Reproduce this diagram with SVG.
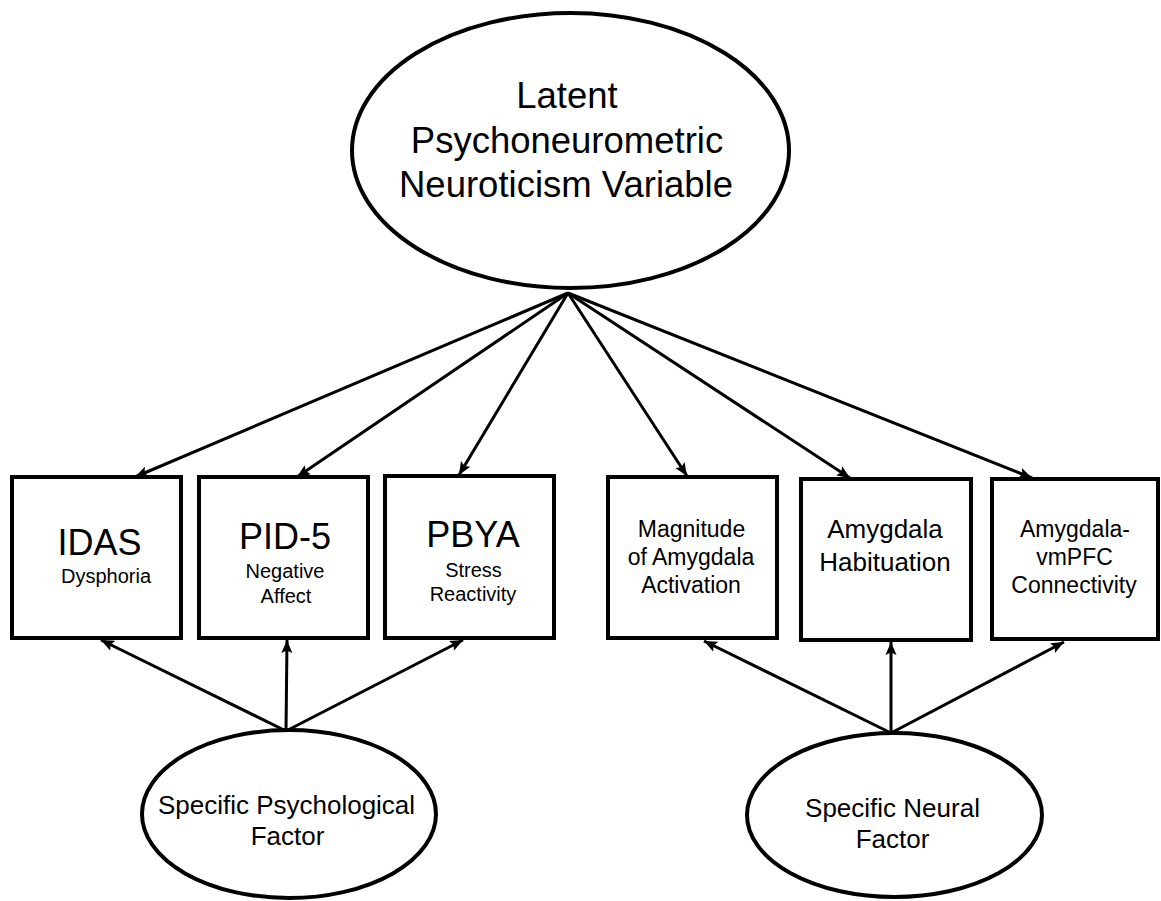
<svg xmlns="http://www.w3.org/2000/svg" width="1161" height="901" viewBox="0 0 1161 901">
<style>
  .shape { fill: #ffffff; stroke: #000000; stroke-width: 4; }
  .lbl { font-family: "Liberation Sans", Arial, Helvetica, sans-serif; fill: #000000; text-anchor: middle; }
  .conn line { stroke: #000000; stroke-width: 3; marker-end: url(#arrow); }
</style>
<defs>
  <marker id="arrow" markerUnits="userSpaceOnUse" markerWidth="14" markerHeight="12" refX="13" refY="6" orient="auto">
    <path d="M0,0.5 L13,6 L0,11.5 L2.5,6 Z" fill="#000000"/>
  </marker>
</defs>
<rect x="0" y="0" width="1161" height="901" fill="#ffffff"/>

<g id="connectors" class="conn">
  <line x1="568" y1="293" x2="135" y2="477"/>
  <line x1="568" y1="293" x2="297" y2="477"/>
  <line x1="568" y1="293" x2="459" y2="475"/>
  <line x1="568" y1="293" x2="687" y2="476"/>
  <line x1="568" y1="293" x2="850" y2="478"/>
  <line x1="568" y1="293" x2="1032" y2="478"/>
  <line x1="286" y1="731" x2="101" y2="640"/>
  <line x1="286" y1="731" x2="287" y2="640"/>
  <line x1="286" y1="731" x2="463" y2="640"/>
  <line x1="891" y1="733" x2="704" y2="641"/>
  <line x1="891" y1="733" x2="891" y2="642"/>
  <line x1="891" y1="733" x2="1064" y2="642"/>
</g>

<g id="latent">
  <ellipse class="shape" cx="570.5" cy="150.5" rx="218.5" ry="137.5"/>
  <text class="lbl" font-size="36.5" x="567" y="108">Latent</text>
  <text class="lbl" font-size="36.5" x="567" y="153">Psychoneurometric</text>
  <text class="lbl" font-size="36.5" x="566" y="197">Neuroticism Variable</text>
</g>

<g id="idas">
  <rect class="shape" x="12" y="477" width="169" height="161"/>
  <text class="lbl" font-size="36" x="99.5" y="555">IDAS</text>
  <text class="lbl" font-size="20" x="106" y="583">Dysphoria</text>
</g>

<g id="pid5">
  <rect class="shape" x="199" y="477" width="169" height="161"/>
  <text class="lbl" font-size="36" x="285" y="549">PID-5</text>
  <text class="lbl" font-size="20" x="285" y="578">Negative</text>
  <text class="lbl" font-size="20" x="286" y="603">Affect</text>
</g>

<g id="pbya">
  <rect class="shape" x="385" y="476" width="169" height="162"/>
  <text class="lbl" font-size="36" x="473" y="547">PBYA</text>
  <text class="lbl" font-size="20" x="473.5" y="577">Stress</text>
  <text class="lbl" font-size="20" x="473" y="601">Reactivity</text>
</g>

<g id="magnitude">
  <rect class="shape" x="608" y="477" width="169" height="161"/>
  <text class="lbl" font-size="23" x="691.5" y="537">Magnitude</text>
  <text class="lbl" font-size="23" x="691" y="565">of Amygdala</text>
  <text class="lbl" font-size="23" x="691" y="593">Activation</text>
</g>

<g id="habituation">
  <rect class="shape" x="801" y="479" width="170" height="161"/>
  <text class="lbl" font-size="26" x="885" y="538">Amygdala</text>
  <text class="lbl" font-size="26" x="885" y="571">Habituation</text>
</g>

<g id="connectivity">
  <rect class="shape" x="992" y="479" width="166" height="160"/>
  <text class="lbl" font-size="23" x="1075" y="537">Amygdala-</text>
  <text class="lbl" font-size="23" x="1074.5" y="565">vmPFC</text>
  <text class="lbl" font-size="23" x="1074" y="593">Connectivity</text>
</g>

<g id="psych-factor">
  <ellipse class="shape" cx="289" cy="814" rx="147" ry="84"/>
  <text class="lbl" font-size="26" x="286.5" y="814">Specific Psychological</text>
  <text class="lbl" font-size="26" x="287.5" y="845">Factor</text>
</g>

<g id="neural-factor">
  <ellipse class="shape" cx="894.5" cy="815" rx="147.5" ry="82"/>
  <text class="lbl" font-size="26" x="892.5" y="817">Specific Neural</text>
  <text class="lbl" font-size="26" x="892.5" y="848">Factor</text>
</g>
</svg>
